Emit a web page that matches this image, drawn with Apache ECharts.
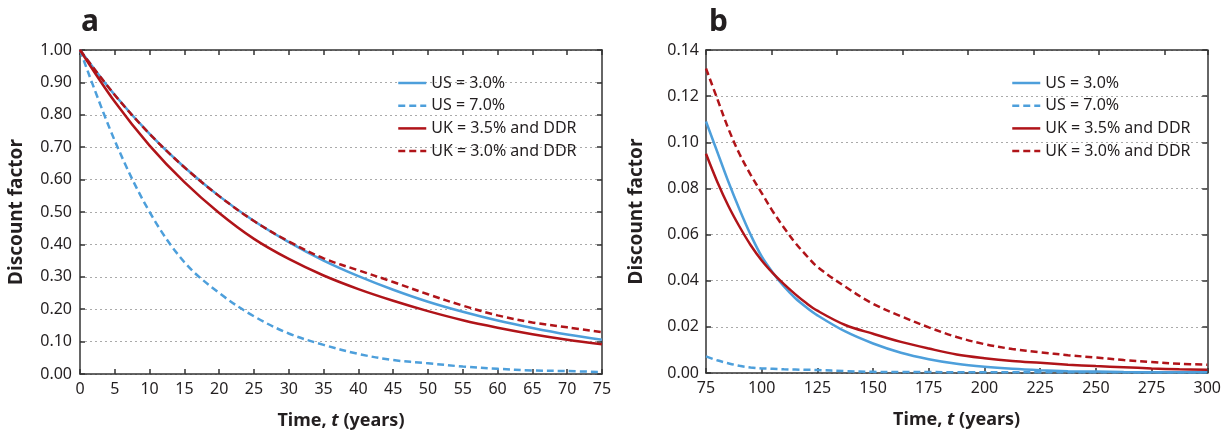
<!DOCTYPE html>
<html>
<head>
<meta charset="utf-8">
<script src="https://cdn.jsdelivr.net/npm/echarts@6/dist/echarts.min.js"></script>
<style>
  html, body { margin: 0; padding: 0; background: #fff; }
  #main { width: 1224px; height: 435px; }
</style>
</head>
<body>
<div id="main"></div>
<script>
// series names
const names = ['US = 3.0%', 'US = 7.0%', 'UK = 3.5% and DDR', 'UK = 3.0% and DDR'];

// panel a: years 0-75
const yearsA = [0, 5, 10, 15, 20, 25, 30, 35, 40, 45, 50, 55, 60, 65, 70, 75];
const us3A = [1.00, 0.861, 0.741, 0.638, 0.549, 0.472, 0.407, 0.350, 0.302, 0.260, 0.223, 0.192, 0.165, 0.142, 0.122, 0.106];
const us7A = [1.00, 0.72, 0.50, 0.345, 0.25, 0.178, 0.125, 0.090, 0.062, 0.043, 0.033, 0.023, 0.016, 0.011, 0.009, 0.006];
const uk35A = [1.00, 0.840, 0.705, 0.592, 0.497, 0.417, 0.355, 0.304, 0.262, 0.226, 0.194, 0.166, 0.143, 0.123, 0.106, 0.092];
const uk30A = [1.00, 0.861, 0.741, 0.638, 0.549, 0.472, 0.409, 0.357, 0.320, 0.284, 0.246, 0.211, 0.181, 0.159, 0.144, 0.129];

// panel b: years 75-300
const yearsB = [75, 80, 85, 90, 95, 100, 105, 110, 115, 120, 125, 137.5, 150, 162.5, 175, 187.5, 200, 212.5, 225, 237.5, 250, 262.5, 275, 287.5, 300];
const us3B = [0.109, 0.096, 0.083, 0.071, 0.060, 0.0505, 0.0435, 0.0375, 0.0325, 0.0285, 0.025, 0.018, 0.0128, 0.0088, 0.0060, 0.0040, 0.0027, 0.0018, 0.0012, 0.0008, 0.0006, 0.0004, 0.0003, 0.0003, 0.0003];
const us7B = [0.0072, 0.0055, 0.0042, 0.0031, 0.0024, 0.0020, 0.0018, 0.0016, 0.0015, 0.0014, 0.0013, 0.0008, 0.0005, 0.0004, 0.0004, 0.0003, 0.0003, 0.0003, 0.0003, 0.0003, 0.0003, 0.0003, 0.0003, 0.0003, 0.0003];
const uk35B = [0.095, 0.083, 0.0725, 0.0635, 0.0555, 0.0488, 0.0433, 0.0385, 0.0342, 0.0303, 0.027, 0.0208, 0.017, 0.0135, 0.0106, 0.0080, 0.0064, 0.0052, 0.0044, 0.0036, 0.0030, 0.0025, 0.0020, 0.0016, 0.0014];
const uk30B = [0.132, 0.119, 0.106, 0.095, 0.086, 0.078, 0.070, 0.063, 0.0565, 0.051, 0.046, 0.0374, 0.030, 0.0246, 0.0198, 0.0156, 0.0125, 0.0104, 0.0090, 0.0077, 0.0067, 0.0056, 0.0048, 0.0040, 0.0036];

const blue = '#4d9fdb';
const red = '#b01419';
const ink = '#231f20';
const font = 'Noto Sans';

const chart = echarts.init(document.getElementById('main'));

const pairs = (xs, ys) => xs.map((x, i) => [x, ys[i]]);

function line(name, xs, ys, color, dashed, axis) {
  return {
    name: name,
    type: 'line',
    xAxisIndex: axis,
    yAxisIndex: axis,
    data: pairs(xs, ys),
    symbol: 'none',
    smooth: 0.35,
    lineStyle: { color: color, width: 2.5, type: dashed ? [7, 4] : 'solid' },
    itemStyle: { color: color }
  };
}

const axisLine = { show: true, onZero: false, lineStyle: { color: '#333', width: 1.5 } };
const tick = { show: true, inside: true, length: 5, lineStyle: { color: '#333', width: 1.5 } };
const label = { color: ink, fontFamily: font, fontSize: 16, margin: 7 };
const timeName = {
  name: '{b|Time, }{i|t}{b| (years)}',
  nameLocation: 'middle',
  nameGap: 38,
  nameTextStyle: {
    rich: {
      b: { fontFamily: font, fontSize: 18, fontWeight: 'bold', color: ink },
      i: { fontFamily: font, fontSize: 18, fontWeight: 'bold', fontStyle: 'italic', color: ink }
    }
  }
};
const yName = gap => ({
  name: 'Discount factor',
  nameLocation: 'middle',
  nameGap: gap,
  nameTextStyle: { fontFamily: font, fontSize: 19, fontWeight: 'bold', color: ink }
});
const grid = { show: true, lineStyle: { color: '#aaa', width: 1, type: [2, 3] } };
const plain = { axisLine: axisLine, axisTick: tick, axisLabel: { show: false }, splitLine: { show: false } };

const legend = left => ({
  left: left,
  top: 70,
  orient: 'vertical',
  itemWidth: 28,
  itemHeight: 14,
  itemGap: 6.7,
  itemStyle: { opacity: 0 },
  lineStyle: { width: 2.5 },
  textStyle: { fontFamily: font, fontSize: 16, color: ink },
  data: names
});

const option = {
  animation: false,
  title: [
    { text: 'a', left: 76, top: 2, textStyle: { fontFamily: font, fontSize: 30, fontWeight: 'bold', color: ink } },
    { text: 'b', left: 704, top: 2, textStyle: { fontFamily: font, fontSize: 30, fontWeight: 'bold', color: ink } }
  ],
  legend: [legend(392), legend(1006)],
  grid: [
    { left: 80, right: 622, top: 50, bottom: 60 },
    { left: 706, right: 11, top: 50, bottom: 62 }
  ],
  xAxis: [
    Object.assign({ type: 'value', gridIndex: 0, min: 0, max: 75, interval: 5, position: 'bottom',
      axisLine: axisLine, axisTick: tick, axisLabel: label, splitLine: { show: false } }, timeName),
    Object.assign({ type: 'value', gridIndex: 0, min: 0, max: 75, interval: 5, position: 'top' }, plain),
    Object.assign({ type: 'value', gridIndex: 1, min: 75, max: 300, interval: 25, position: 'bottom',
      axisLine: axisLine, axisTick: tick, axisLabel: label, splitLine: { show: false } }, timeName),
    Object.assign({ type: 'value', gridIndex: 1, min: 0, max: 7.65, interval: 1, position: 'top' }, plain)
  ],
  yAxis: [
    Object.assign({ type: 'value', gridIndex: 0, min: 0, max: 1, interval: 0.1, position: 'left',
      axisLine: axisLine, axisTick: tick, splitLine: grid,
      axisLabel: Object.assign({}, label, { margin: 8, formatter: v => v.toFixed(2) }) }, yName(54)),
    Object.assign({ type: 'value', gridIndex: 0, min: 0, max: 1, interval: 0.1, position: 'right' }, plain),
    Object.assign({ type: 'value', gridIndex: 1, min: 0, max: 0.14, interval: 0.02, position: 'left',
      axisLine: axisLine, axisTick: tick, splitLine: grid,
      axisLabel: Object.assign({}, label, { formatter: v => v.toFixed(2) }) }, yName(60)),
    Object.assign({ type: 'value', gridIndex: 1, min: 0, max: 0.14, interval: 0.02, position: 'right' }, plain)
  ],
  series: [
    line(names[0], yearsA, us3A, blue, false, 0),
    line(names[1], yearsA, us7A, blue, true, 0),
    line(names[2], yearsA, uk35A, red, false, 0),
    line(names[3], yearsA, uk30A, red, true, 0),
    line(names[0], yearsB, us3B, blue, false, 2),
    line(names[1], yearsB, us7B, blue, true, 2),
    line(names[2], yearsB, uk35B, red, false, 2),
    line(names[3], yearsB, uk30B, red, true, 2)
  ]
};

chart.setOption(option);
</script>
</body>
</html>
